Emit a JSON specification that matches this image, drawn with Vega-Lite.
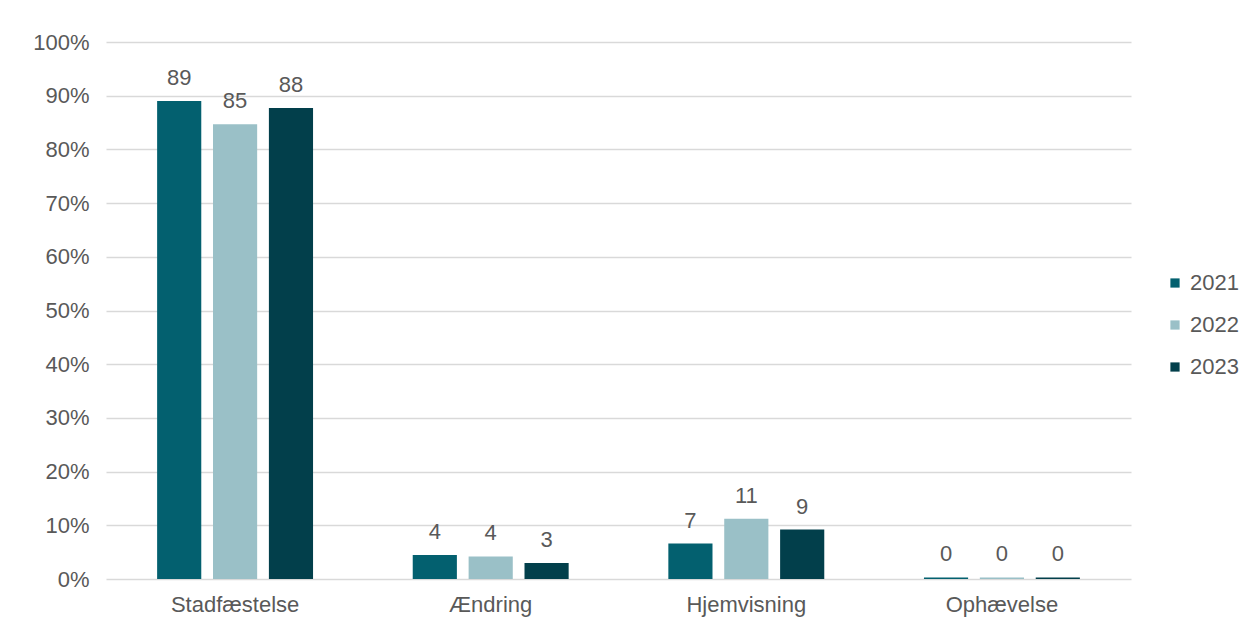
{
  "$schema": "https://vega.github.io/schema/vega-lite/v6.json",
  "width": 1025,
  "height": 537,
  "autosize": {"type": "none"},
  "padding": {"left": 106, "top": 42, "right": 124, "bottom": 51},
  "background": "white",
  "data": {"values": [
    {"kategori": "Stadfæstelse", "år": "2021", "pct": 89.0},
    {"kategori": "Stadfæstelse", "år": "2022", "pct": 84.7},
    {"kategori": "Stadfæstelse", "år": "2023", "pct": 87.7},
    {"kategori": "Ændring", "år": "2021", "pct": 4.45},
    {"kategori": "Ændring", "år": "2022", "pct": 4.2},
    {"kategori": "Ændring", "år": "2023", "pct": 3.0},
    {"kategori": "Hjemvisning", "år": "2021", "pct": 6.6},
    {"kategori": "Hjemvisning", "år": "2022", "pct": 11.2},
    {"kategori": "Hjemvisning", "år": "2023", "pct": 9.2},
    {"kategori": "Ophævelse", "år": "2021", "pct": 0.3},
    {"kategori": "Ophævelse", "år": "2022", "pct": 0.3},
    {"kategori": "Ophævelse", "år": "2023", "pct": 0.3}
  ]},
  "encoding": {
    "x": {"field": "kategori", "type": "nominal", "sort": ["Stadfæstelse", "Ændring", "Hjemvisning", "Ophævelse"],
      "scale": {"paddingInner": 0.39, "paddingOuter": 0.2},
      "axis": {"title": null, "labelAngle": 0, "labelFontSize": 22, "labelColor": "#595959", "labelFont": "Liberation Sans", "ticks": false, "domain": false, "labelPadding": 15}},
    "xOffset": {"field": "år", "type": "nominal", "scale": {"paddingInner": 0.21, "paddingOuter": 0}},
    "y": {"field": "pct", "type": "quantitative", "scale": {"domain": [0, 100]},
      "axis": {"title": null, "values": [0,10,20,30,40,50,60,70,80,90,100], "labelExpr": "datum.value + '%'", "labelFontSize": 22, "labelColor": "#595959", "labelFont": "Liberation Sans", "ticks": false, "domain": false, "gridColor": "#d9d9d9", "gridWidth": 1.3, "labelPadding": 17}}
  },
  "layer": [
    {"mark": {"type": "bar"},
     "encoding": {
       "color": {"field": "år", "type": "nominal",
         "scale": {"domain": ["2021", "2022", "2023"], "range": ["#03606F", "#9AC0C7", "#023F4B"]},
         "legend": {"title": null, "orient": "none", "legendX": 1058, "legendY": 230, "symbolType": "square", "symbolSize": 85, "labelFontSize": 22, "labelColor": "#595959", "labelFont": "Liberation Sans", "rowPadding": 20, "labelOffset": 4}}}},
    {"mark": {"type": "text", "baseline": "bottom", "dy": -11, "fontSize": 22, "color": "#595959", "font": "Liberation Sans"},
     "encoding": {"text": {"field": "pct", "type": "quantitative", "format": ".0f"}}}
  ],
  "config": {"view": {"stroke": null}}
}
